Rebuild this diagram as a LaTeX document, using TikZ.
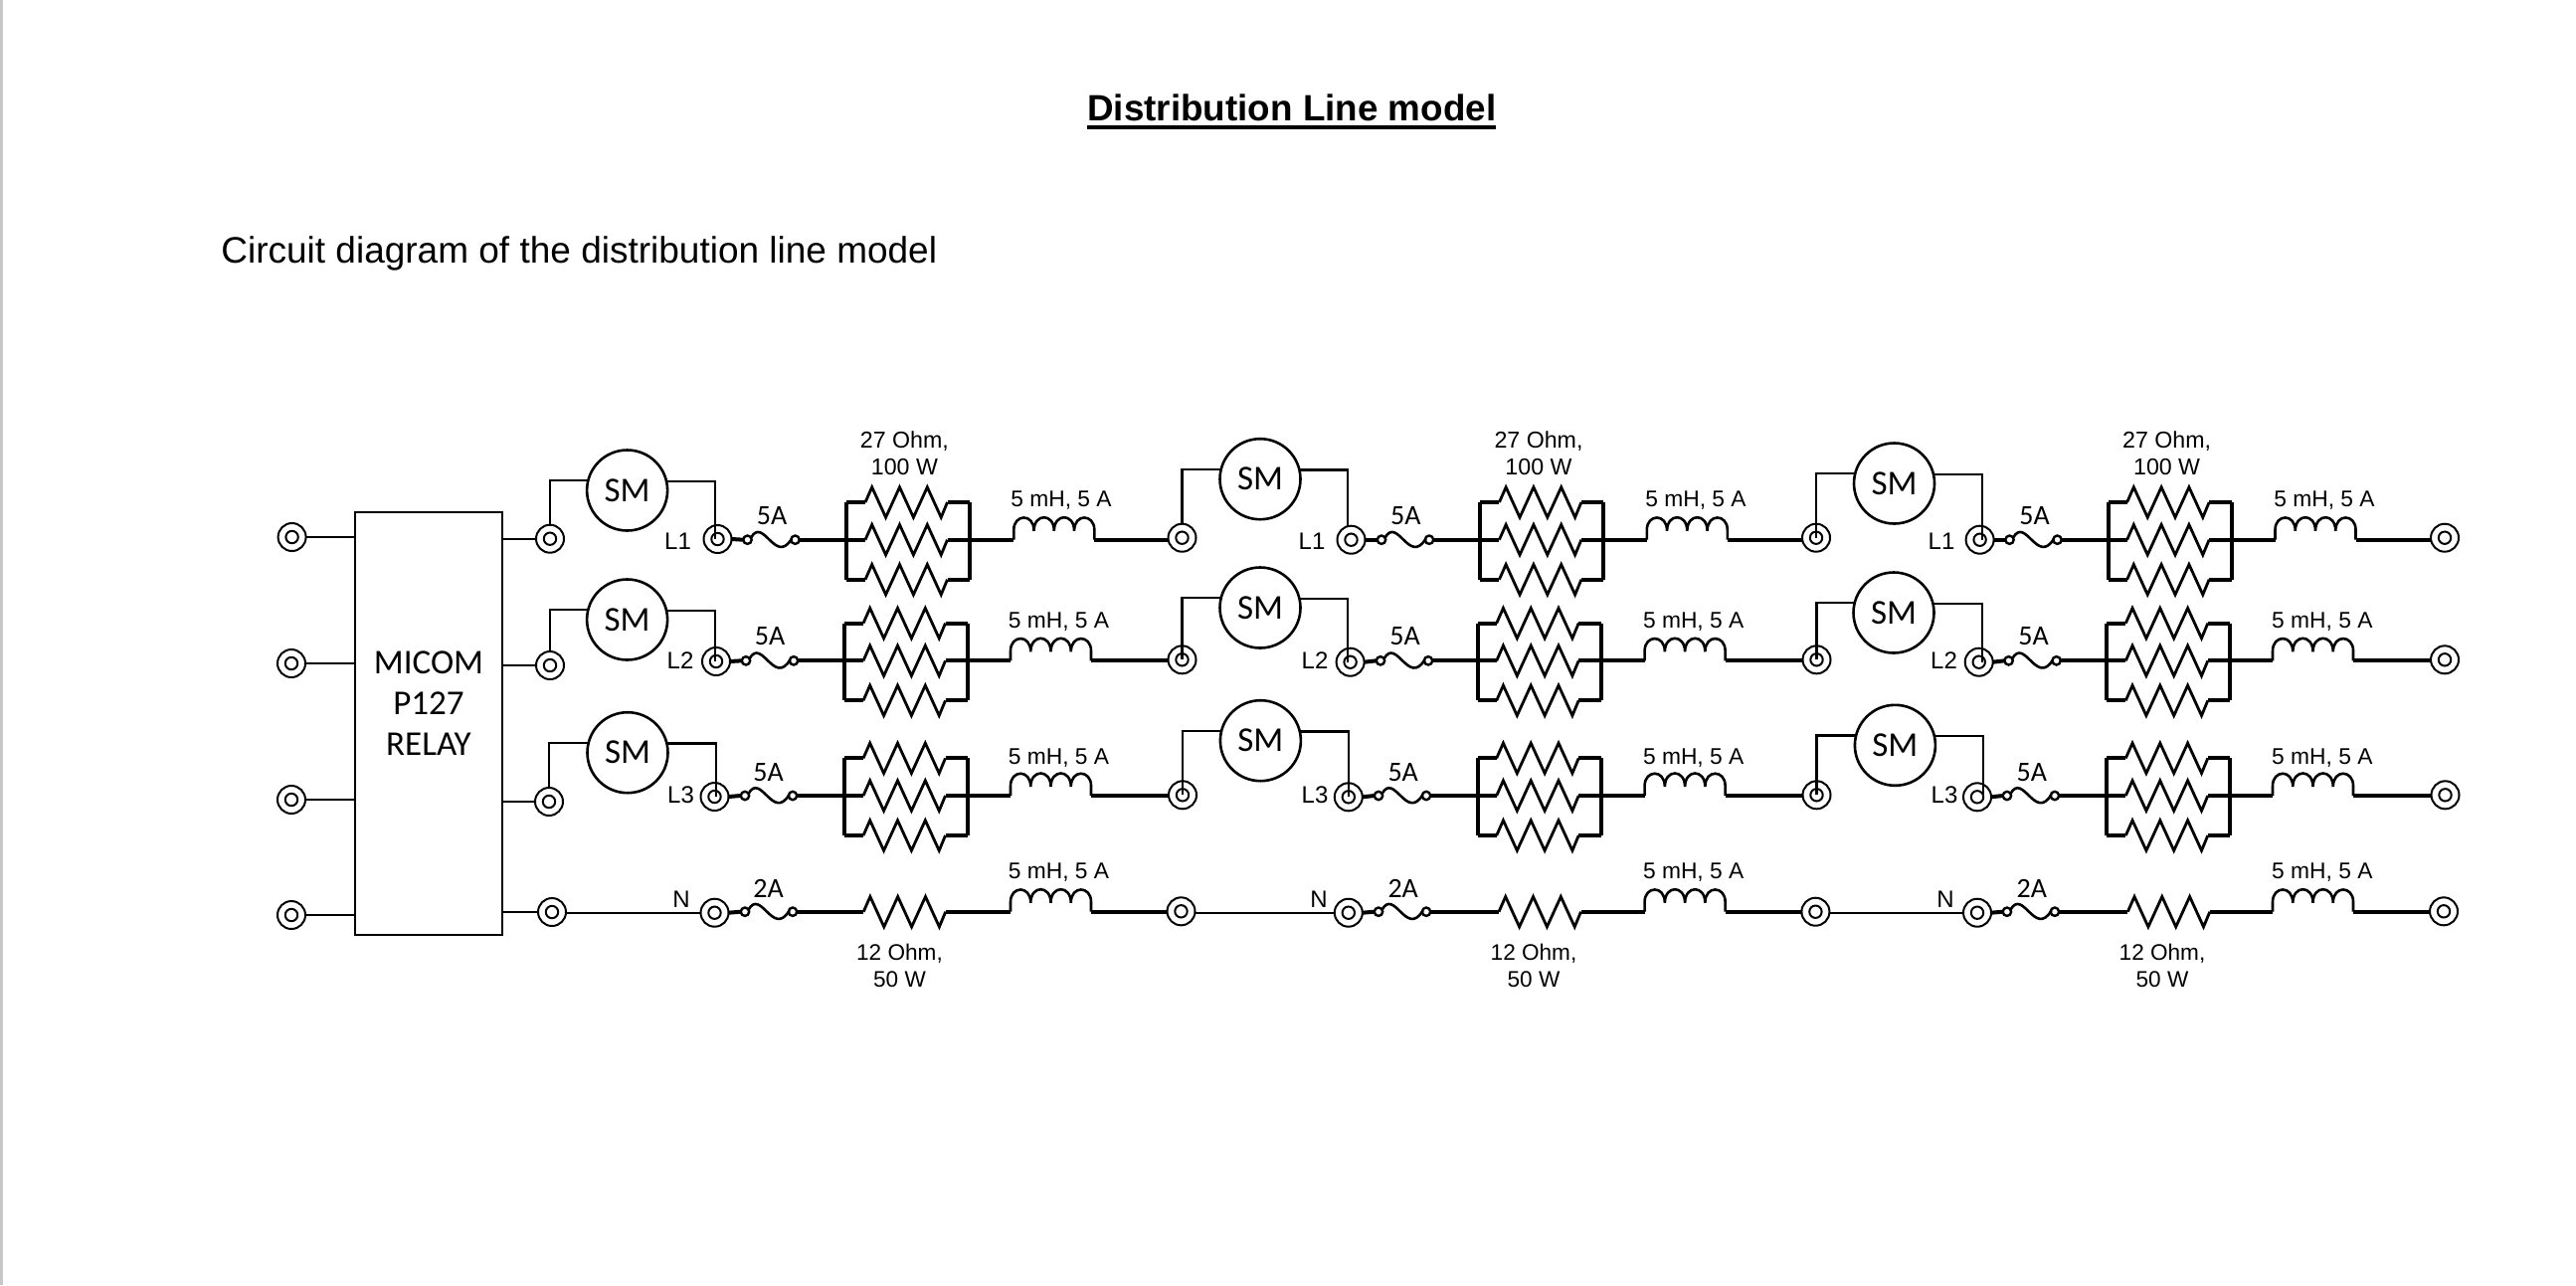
\documentclass[tikz,border=0pt]{standalone}
\usepackage{fontspec}
\setmainfont{Liberation Sans}
\newfontfamily\calib{Carlito}
\usetikzlibrary{calc}
\newcommand{\zigpath}{-- ++(6.7,-15.2) -- ++(13.9,30.4) -- ++(13.9,-30.4) -- ++(13.9,30.4) -- ++(13.9,-30.4) -- ++(13.9,30.4) -- ++(6.3,-15.2)}
\newcommand{\lbl}[1]{\fontsize{#1}{#1}\selectfont}
\tikzset{
  terminal/.style={circle,draw,line width=1pt,fill=white,minimum size=14pt,inner sep=0pt,outer sep=0pt,
    path picture={\draw[line width=1pt] (path picture bounding box.center) circle (6.2);}},
  motor/.style={circle,draw,line width=1.3pt,minimum size=40.5pt,inner sep=0pt,outer sep=0pt,font=\calib\lbl{17.5}},
  relay/.style={rectangle,draw,line width=1.2pt,minimum width=74pt,minimum height=212.5pt,inner sep=0pt,outer sep=0pt},
  relaytext/.style={align=center,font=\calib\fontsize{17.5}{20.5}\selectfont,inner sep=0pt},
  fuseend/.style={circle,draw,line width=1.2pt,fill=white,minimum size=4.2pt,inner sep=0pt,outer sep=0pt},
  wire/.style={line width=1.2pt},
  heavy/.style={line width=2pt,line join=miter},
  zigline/.style={line width=1.4pt,line join=miter,miter limit=10},
  fuseline/.style={line width=1.3pt},
  tag/.style={inner sep=0pt,font=\lbl{11.4}},
  restag/.style={inner sep=0pt,align=center,font=\fontsize{11.6}{13.5}\selectfont},
  neutag/.style={inner sep=0pt,align=center,font=\fontsize{11.3}{13.5}\selectfont},
  phasetag/.style={inner sep=0pt,font=\lbl{12}},
  fusetag/.style={inner sep=0pt,font=\calib\lbl{14}},
  coil/.pic={\draw[fuseline] (0,0) -- (0,-10)
    .. controls (0,-26) and (20.25,-27) .. (20.25,-9)
    .. controls (20.25,-27) and (40.5,-27) .. (40.5,-9)
    .. controls (40.5,-27) and (60.75,-27) .. (60.75,-9)
    .. controls (60.75,-27) and (81,-26) .. (81,-10) -- (81,0);}
}
\begin{document}
\begin{tikzpicture}[x=0.5pt,y=-0.5pt]
\useasboundingbox (0,0) rectangle (2590,1292);
\fill[white] (0,0) rectangle (2590,1292);
\fill[black!22] (0,0) rectangle (2.5,1292);
\node[anchor=base west,inner sep=0pt,font=\bfseries\lbl{18.4}] (title) at (1093,121.7)
  {\vtop{\hbox{Distribution Line model}\kern2.1pt\hrule height 2pt}};
\node[anchor=base west,inner sep=0pt,font=\lbl{18.5}] (subtitle) at (222,264) {Circuit diagram of the distribution line model};
% relay
\node[relay] (box) at (431,727.5) {};
\node[relaytext] (relaylabel) at (431,707.5) {MICOM\\P127\\RELAY};
% terminals
\foreach \ri/\xx/\yy in {1/293.6/540,2/293/667,3/293/804,4/293/920}
  \node[terminal] (lt\ri) at (\xx,\yy) {};
\foreach \ci/\ri/\xx/\yy in {
  0/1/553/541.7,0/2/553/669,0/3/552/806,0/4/555/917,
  1/1/1188.5/540.7,1/2/1188.5/663.3,1/3/1189/799.3,1/4/1187.5/916.3,
  2/1/1826/540.7,2/2/1826.5/663.3,2/3/1826.5/799.3,2/4/1825.4/916.7,
  3/1/2458/540.7,3/2/2458/663.3,3/3/2458.5/799.3,3/4/2457/916.3}
  \node[terminal] (t\ci\ri) at (\xx,\yy) {};
\foreach \ri in {1,2,3,4}{
  \draw[wire] (lt\ri.east) -- (lt\ri.east -| box.west);
  \draw[wire] (t0\ri.west -| box.east) -- (t0\ri.west);
}
% phase modules
\foreach \ci/\ri/\nc/\lab/\mx/\my/\wx/\we/\lx/\ly/\yy/\fu/\bl/\il/\tx/\ty/\fa/\fy/\mhx/\mhy/\anc in {
 0/1/1/L1/630.6/493/719/542/721.5/542/542.7/751.5/851/1019.3/681.5/544/776/518.3/1067/503/north,
 0/2/1/L2/630.6/623/719/665/720/665/664.3/750/849/1016/684/664/774/640/1064.5/625/north,
 0/3/1/L3/631/756.7/719.7/801/718.5/801/800/749/849/1016/684.5/799/772.5/777/1064.5/761.7/north,
 1/1/2/L1/1267/481.7/1355/529/1358.5/542.7/542.7/1389/1488.4/1655.8/1319/544/1413.4/518.3/1705/503/north,
 1/2/2/L2/1267/611/1355/665.7/1357.6/665.7/664.3/1388/1485.7/1653.6/1322/664/1412.5/640/1702.7/625/center,
 1/3/2/L3/1267.4/744.7/1356/801.3/1355.8/801.3/800/1386/1485.7/1653.6/1322/799/1410.7/777/1702.7/761.7/center,
 2/1/3/L1/1904.5/486/1992.9/542.7/1990.6/542.7/542.7/2020.5/2119.6/2287.5/1952/544/2045.5/518.3/2337/503/center,
 2/2/3/L2/1904/616/1993/665.7/1989.7/665.7/664.3/2019.6/2118.3/2285/1954.5/664/2044.6/640/2334.8/625/center,
 2/3/3/L3/1905.4/749.3/1993.7/801.3/1988/801.3/800/2017.9/2118.3/2285/1955/799/2042.9/777/2334.8/761.7/center}{
  \node[terminal] (l\ci\ri) at (\lx,\ly) {};
  \node[motor] (m\ci\ri) at (\mx,\my) {SM};
  \node[fuseend] (fa\ci\ri) at (\fu,\yy) {};
  \node[fuseend] (fb\ci\ri) at ({\fu+48},\yy) {};
  \coordinate (w\ci\ri) at (\wx,\we);
  \draw[wire] (t\ci\ri.\anc) |- (m\ci\ri.166);
  \draw[wire] (m\ci\ri.13) -| (w\ci\ri);
  \draw[heavy] (l\ci\ri.east) -- (fa\ci\ri.west);
  \draw[fuseline] ($(fa\ci\ri)+(3.5,-2)$) .. controls ($(fa\ci\ri)+(16,-24)$) and ($(fa\ci\ri)+(28,26)$) .. ($(fb\ci\ri)+(-3.5,-1)$);
  % resistor bank
  \coordinate (bl\ci\ri) at (\bl,\yy);
  \coordinate (br\ci\ri) at ({\bl+124},\yy);
  \coordinate (ia\ci\ri) at (\il,\yy);
  \coordinate (ib\ci\ri) at ({\il+81},\yy);
  \draw[heavy] ($(bl\ci\ri)+(0,-37.7)$) -- ($(bl\ci\ri)+(0,40)$);
  \draw[heavy] ($(br\ci\ri)+(0,-37.7)$) -- ($(br\ci\ri)+(0,40)$);
  \draw[heavy] ($(bl\ci\ri)+(0,-37.7)$) -- ++(19,0);
  \draw[heavy] ($(bl\ci\ri)+(101.5,-37.7)$) -- ($(br\ci\ri)+(0,-37.7)$);
  \draw[heavy] ($(bl\ci\ri)+(0,40)$) -- ++(19,0);
  \draw[heavy] ($(bl\ci\ri)+(101.5,40)$) -- ($(br\ci\ri)+(0,40)$);
  \draw[zigline] ($(bl\ci\ri)+(19,-37.7)$) \zigpath;
  \draw[zigline] ($(bl\ci\ri)+(19,0)$) \zigpath;
  \draw[zigline] ($(bl\ci\ri)+(19,40)$) \zigpath;
  \draw[heavy] (fb\ci\ri.east) -- ($(bl\ci\ri)+(19,0)$);
  \draw[heavy] ($(bl\ci\ri)+(101.5,0)$) -- (ia\ci\ri);
  % inductor
  \pic at (ia\ci\ri) {coil};
  \draw[heavy] (ib\ci\ri) -- (t\nc\ri.west |- ib\ci\ri);
  % labels
  \node[phasetag] (pl\ci\ri) at (\tx,\ty) {\lab};
  \node[fusetag] (fl\ci\ri) at (\fa,\fy) {5A};
  \node[tag] (il\ci\ri) at (\mhx,\mhy) {5 mH, 5 A};
}
\foreach \ci/\xx in {0/909.4,1/1547,2/2178.6}
  \node[restag] (rl\ci) at (\xx,456) {27 Ohm,\\100 W};
% neutral row
\foreach \ci/\nc/\lx/\fu/\zz/\il/\tx/\fa/\mhx/\rx in {
 0/1/718.5/749/868.2/1016/685/772.5/1064.5/904.5,
 1/2/1355.8/1386/1507/1653.6/1326/1410.7/1702.7/1542,
 2/3/1988/2017.9/2139.3/2285/1956/2042.9/2334.8/2174}{
  \node[terminal] (ln\ci) at (\lx,917.7) {};
  \node[fuseend] (fan\ci) at (\fu,916.7) {};
  \node[fuseend] (fbn\ci) at ({\fu+48},916.7) {};
  \coordinate (zn\ci) at (\zz,916.7);
  \coordinate (ia\ci) at (\il,916.7);
  \coordinate (ib\ci) at ({\il+81},916.7);
  \draw[wire] (t\ci4.east |- ln\ci.west) -- (ln\ci.west);
  \draw[heavy] (ln\ci.east) -- (fan\ci.west);
  \draw[fuseline] ($(fan\ci)+(3.5,-2)$) .. controls ($(fan\ci)+(16,-24)$) and ($(fan\ci)+(28,26)$) .. ($(fbn\ci)+(-3.5,-1)$);
  \draw[heavy] (fbn\ci.east) -- (zn\ci);
  \draw[zigline] (zn\ci) \zigpath;
  \draw[heavy] ($(zn\ci)+(82.5,0)$) -- (ia\ci);
  \pic at (ia\ci) {coil};
  \draw[heavy] (ib\ci) -- (t\nc4.west |- ib\ci);
  \node[phasetag] (pln\ci) at (\tx,904) {N};
  \node[fusetag] (fln\ci) at (\fa,893) {2A};
  \node[tag] (iln\ci) at (\mhx,877.5) {5 mH, 5 A};
  \node[neutag] (rn\ci) at (\rx,971.3) {12 Ohm,\\50 W};
}
\end{tikzpicture}
\end{document}
